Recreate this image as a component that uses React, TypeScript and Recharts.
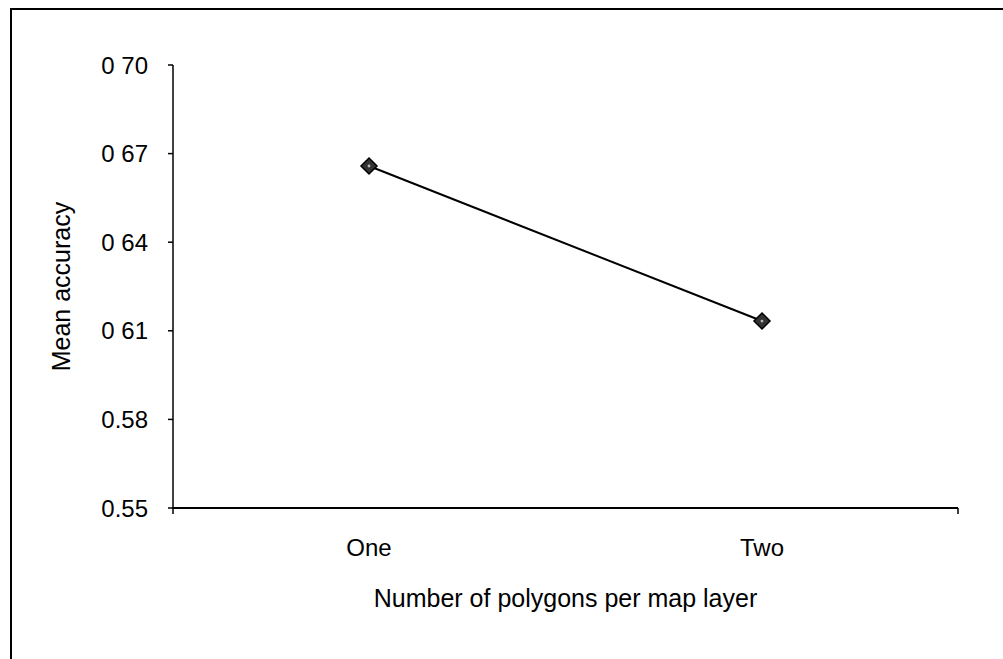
import React from 'react';
import { LineChart, Line, XAxis, YAxis, Label } from 'recharts';

const categories = ['One', 'Two'];
const meanAccuracy = [0.6658, 0.6133];
const yTicks = [0.55, 0.58, 0.61, 0.64, 0.67, 0.7];
// the scan lost the decimal point on the upper labels
const yTickLabels = ['0.55', '0.58', '0 61', '0 64', '0 67', '0 70'];
const boundaryTicks = [0, 1, 2];

const data = categories.map((name, i) => ({ name, value: meanAccuracy[i] }));

const FONT = 'Liberation Sans, Arial, sans-serif';

// hatched diamond marker like the original
const DiamondDot = (props: any) => {
  const { cx, cy } = props;
  if (cx == null || cy == null) return null;
  const r = 8;
  return (
    <g>
      <polygon
        points={`${cx},${cy - r} ${cx + r},${cy} ${cx},${cy + r} ${cx - r},${cy}`}
        fill="#333"
        stroke="#000"
        strokeWidth={1.5}
      />
      <circle cx={cx} cy={cy} r={1.4} fill="#bbb" />
    </g>
  );
};

const NoLabel = () => <g />;

const App: React.FC = () => {
  return (
    <div style={{ position: 'absolute', left: 0, top: 0, width: 1003, height: 659, background: '#fff' }}>
      {/* frame of the scanned figure */}
      <div style={{ position: 'absolute', left: 10, top: 8, right: 0, bottom: 0, borderTop: '2px solid #000', borderLeft: '2px solid #000' }} />
      <LineChart
        width={1003}
        height={659}
        data={data}
        margin={{ top: 65, right: 45, bottom: 50, left: 0 }}
        style={{ position: 'absolute', left: 0, top: 0, fontFamily: FONT }}
      >
        <XAxis
          xAxisId="a_grid"
          type="number"
          domain={[0, 2]}
          ticks={boundaryTicks}
          allowDataOverflow
          height={1}
          tick={<NoLabel />}
          tickSize={6}
          axisLine={{ stroke: '#000', strokeWidth: 2 }}
          tickLine={{ stroke: '#000', strokeWidth: 1.5 }}
        />
        <XAxis
          xAxisId="b_cat"
          dataKey="name"
          type="category"
          padding={{ left: 196, right: 196 }}
          height={100}
          axisLine={false}
          tickLine={false}
          tickSize={0}
          tickMargin={30}
          tick={{ fill: '#000', fontSize: 24, fontFamily: FONT }}
        >
          <Label
            value="Number of polygons per map layer"
            position="insideBottom"
            offset={2}
            style={{ fill: '#000', fontSize: 25, fontFamily: FONT }}
          />
        </XAxis>
        <YAxis
          type="number"
          domain={[0.55, 0.7]}
          ticks={yTicks}
          width={173}
          tickSize={5}
          tickMargin={20}
          tickFormatter={(v: number, i: number) => yTickLabels[i]}
          axisLine={{ stroke: '#000', strokeWidth: 1.5 }}
          tickLine={{ stroke: '#000', strokeWidth: 1.5 }}
          tick={{ fill: '#000', fontSize: 24, fontFamily: FONT }}
        >
          <Label
            value="Mean accuracy"
            angle={-90}
            position="center"
            dx={-25}
            style={{ fill: '#000', fontSize: 25, fontFamily: FONT, textAnchor: 'middle' }}
          />
        </YAxis>
        <Line
          xAxisId="b_cat"
          dataKey="value"
          stroke="#000"
          strokeWidth={2}
          dot={<DiamondDot />}
          activeDot={false}
          isAnimationActive={false}
        />
      </LineChart>
    </div>
  );
};

export default App;
